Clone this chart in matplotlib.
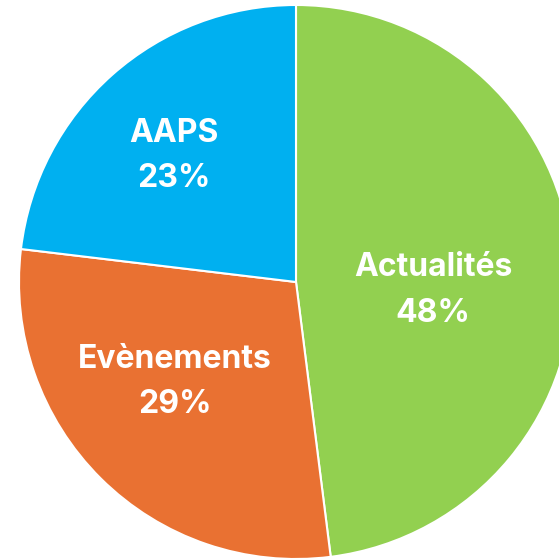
import matplotlib
matplotlib.use("Agg")
import matplotlib.pyplot as plt

# data
categories = ["Actualités", "Evènements", "AAPS"]
shares = [48.0, 28.9, 23.1]
pct_labels = ["48%", "29%", "23%"]
colors = ["#92D050", "#E97132", "#00B0F0"]

# where the labels sit (data coords, pie radius = 1)
label_pos = [(0.495, -0.03), (-0.437, -0.36), (-0.44, 0.455)]

fig = plt.figure(figsize=(5.59, 5.58), dpi=100)
ax = fig.add_axes([0, 0, 1, 1])

wedges, _ = ax.pie(
    shares, colors=colors, startangle=90, counterclock=False,
    radius=1.0, wedgeprops=dict(edgecolor="white", linewidth=1.5),
)

for (x, y), name, pct in zip(label_pos, categories, pct_labels):
    ax.text(x, y, f"{name}\n{pct}", ha="center", va="center",
            color="white", fontsize=23, fontweight="bold",
            family=["Inter", "DejaVu Sans"], linespacing=1.6)

ax.set_xlim(-296 / 277, 263 / 277)
ax.set_ylim(-276 / 277, 282 / 277)
ax.set_aspect("equal")
ax.axis("off")

fig.savefig("out.png", dpi=100, facecolor="white")
